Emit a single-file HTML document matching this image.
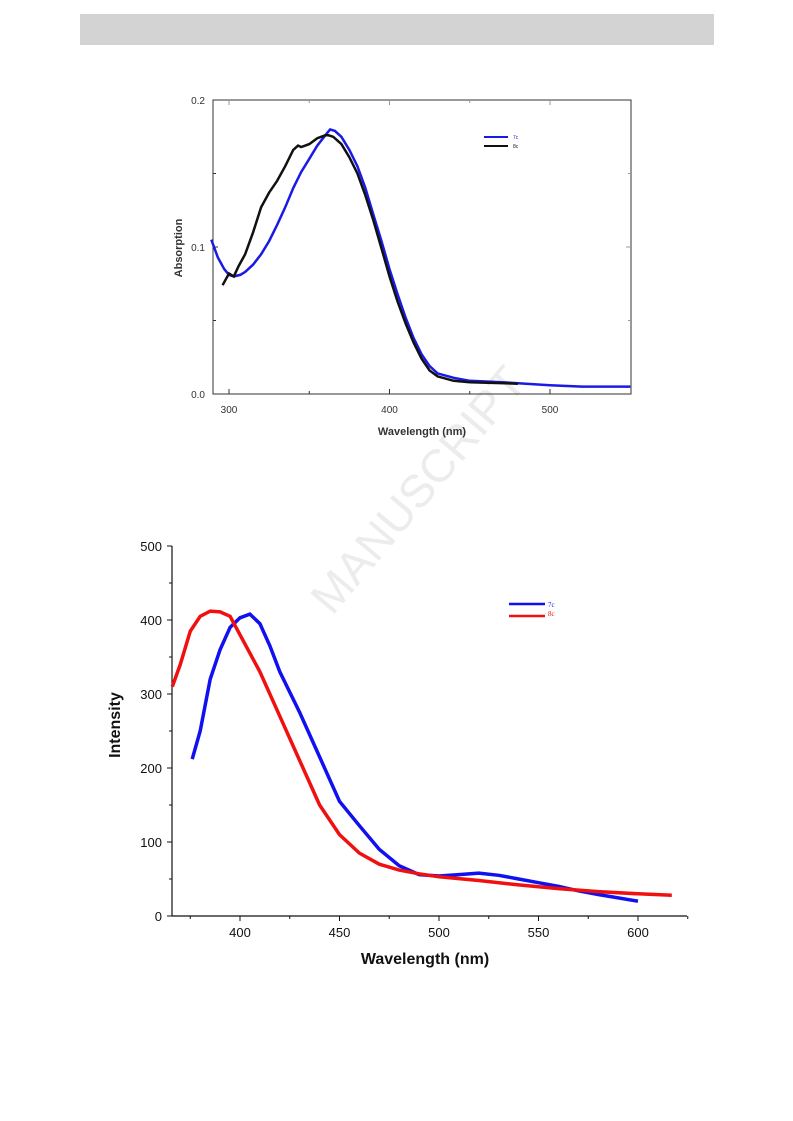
<!DOCTYPE html>
<html><head><meta charset="utf-8"><style>
body{margin:0;background:#fff;width:793px;height:1121px;overflow:hidden;font-family:"Liberation Sans",sans-serif}
svg{position:absolute;left:0;top:0}
</style></head><body>
<svg width="793" height="1121">
<rect x="80" y="14" width="634" height="31" fill="#d3d3d3"/>
<text x="430" y="500" transform="rotate(-50 430 500)" font-size="46" fill="#ececec" text-anchor="middle">MANUSCRIPT</text>
<g id="top"></g>
<g id="bot"></g>
</svg>
<script>
// Absorption chart data
const absX7c=[289,293,297,300,303,307,310,315,320,325,330,335,340,345,350,355,360,363,366,370,375,380,385,390,395,400,405,410,415,420,425,430,440,450,470,500,520,550];
const absY7c=[0.105,0.093,0.085,0.081,0.080,0.081,0.083,0.088,0.095,0.104,0.115,0.127,0.140,0.151,0.160,0.169,0.176,0.180,0.179,0.175,0.166,0.155,0.140,0.122,0.104,0.085,0.068,0.052,0.038,0.027,0.019,0.014,0.011,0.009,0.008,0.006,0.005,0.005];
const absX8c=[296,298,300,303,306,310,315,320,325,330,335,340,343,345,350,355,360,362,365,370,375,380,385,390,395,400,405,410,415,420,425,430,440,450,480];
const absY8c=[0.074,0.078,0.082,0.080,0.087,0.095,0.110,0.127,0.137,0.145,0.155,0.166,0.169,0.168,0.170,0.174,0.176,0.176,0.175,0.170,0.161,0.150,0.135,0.118,0.099,0.080,0.063,0.048,0.035,0.024,0.016,0.012,0.009,0.008,0.007];
const absXTicks=[300,400,500];
const absYTicks=[0.0,0.1,0.2];
// Emission chart data
const emX7c=[376,380,385,390,395,400,405,410,415,420,430,440,450,460,470,480,490,500,510,520,530,540,550,560,570,580,600];
const emY7c=[212,250,320,360,390,403,408,395,365,330,275,215,155,122,90,68,56,54,56,58,55,50,45,40,34,29,20];
const emX8c=[366,370,375,380,385,390,395,400,410,420,430,440,450,460,470,480,490,500,520,540,560,580,600,617];
const emY8c=[310,340,385,405,412,411,405,380,330,270,210,150,110,85,70,62,57,53,48,42,37,33,30,28];
const emXTicks=[400,450,500,550,600];
const emYTicks=[0,100,200,300,400,500];

const NS="http://www.w3.org/2000/svg";
function mk(p,t,a){const e=document.createElementNS(NS,t);for(const k in a)e.setAttribute(k,a[k]);p.appendChild(e);return e;}
function path(xs,ys,sx,sy){return xs.map((x,i)=>(i?'L':'M')+sx(x).toFixed(1)+','+sy(ys[i]).toFixed(1)).join('');}

// top chart
const T=document.getElementById('top');
const tx=v=>229+(v-300)*1.605, ty=v=>394-v*1470;
let e=mk(T,'rect',{x:213,y:100,width:418,height:294,fill:'none',stroke:'#333','stroke-width':1});

[300,350,400,450,500].forEach(v=>{const L=v%100?3:5;
 e=mk(T,'line',{x1:tx(v),x2:tx(v),y1:394,y2:394-L,stroke:'#333'});
 e=mk(T,'line',{x1:tx(v),x2:tx(v),y1:100,y2:100+L,stroke:'#999'});});
[0.05,0.1,0.15].forEach(v=>{const L=Math.abs(v-0.1)<1e-9?5:3;
 e=mk(T,'line',{x1:213,x2:213+L,y1:ty(v),y2:ty(v),stroke:'#333'});
 e=mk(T,'line',{x1:631,x2:631-L,y1:ty(v),y2:ty(v),stroke:'#999'});});
absXTicks.forEach(v=>{e=mk(T,'text',{x:tx(v),y:413,'font-size':10,fill:'#333','text-anchor':'middle'});e.textContent=v;});
absYTicks.forEach(v=>{e=mk(T,'text',{x:205,y:ty(v)+4,'font-size':10,fill:'#333','text-anchor':'end'});e.textContent=v.toFixed(1);});
e=mk(T,'text',{x:422,y:435,'font-size':11,'font-weight':'bold',fill:'#333','text-anchor':'middle'});e.textContent='Wavelength (nm)';
e=mk(T,'text',{x:182,y:248,'font-size':11,'font-weight':'bold',fill:'#333','text-anchor':'middle',transform:'rotate(-90 182 248)'});e.textContent='Absorption';
e=mk(T,'path',{d:path(absX7c,absY7c,tx,ty),fill:'none',stroke:'#1a1ae6','stroke-width':2.5});
e=mk(T,'path',{d:path(absX8c,absY8c,tx,ty),fill:'none',stroke:'#111','stroke-width':2.5});
e=mk(T,'line',{x1:484,x2:508,y1:137,y2:137,stroke:'#1a1ae6','stroke-width':2});
e=mk(T,'text',{x:513,y:139,'font-size':5,fill:'#1a1ae6'});e.textContent='7c';
e=mk(T,'line',{x1:484,x2:508,y1:146,y2:146,stroke:'#111','stroke-width':2});
e=mk(T,'text',{x:513,y:148,'font-size':5,fill:'#111'});e.textContent='8c';

// bottom chart
const B=document.getElementById('bot');
const bx=v=>240+(v-400)*1.99, by=v=>916-v*0.74;
e=mk(B,'line',{x1:172,x2:172,y1:546,y2:916,stroke:'#111','stroke-width':1.2});
e=mk(B,'line',{x1:172,x2:687,y1:916,y2:916,stroke:'#111','stroke-width':1.2});
for(let v=375;v<=625;v+=25){const L=v%50?3:5;e=mk(B,'line',{x1:bx(v),x2:bx(v),y1:916,y2:916+L,stroke:'#111'});}
for(let v=0;v<=500;v+=50){const L=v%100?3:5;e=mk(B,'line',{x1:172,x2:172-L,y1:by(v),y2:by(v),stroke:'#111'});}
emXTicks.forEach(v=>{e=mk(B,'text',{x:bx(v),y:937,'font-size':13,fill:'#111','text-anchor':'middle'});e.textContent=v;});
emYTicks.forEach(v=>{e=mk(B,'text',{x:162,y:by(v)+5,'font-size':13,fill:'#111','text-anchor':'end'});e.textContent=v;});
e=mk(B,'text',{x:425,y:964,'font-size':16,'font-weight':'bold',fill:'#111','text-anchor':'middle'});e.textContent='Wavelength (nm)';
e=mk(B,'text',{x:120,y:725,'font-size':16,'font-weight':'bold',fill:'#111','text-anchor':'middle',transform:'rotate(-90 120 725)'});e.textContent='Intensity';
e=mk(B,'path',{d:path(emX7c,emY7c,bx,by),fill:'none',stroke:'#1010f0','stroke-width':3.5});
e=mk(B,'path',{d:path(emX8c,emY8c,bx,by),fill:'none',stroke:'#f01010','stroke-width':3.5});
e=mk(B,'line',{x1:509,x2:545,y1:604,y2:604,stroke:'#1010f0','stroke-width':2.5});
e=mk(B,'text',{x:548,y:607,'font-size':7,fill:'#1010f0','font-family':'Liberation Serif'});e.textContent='7c';
e=mk(B,'line',{x1:509,x2:545,y1:616,y2:616,stroke:'#f01010','stroke-width':2.5});
e=mk(B,'text',{x:548,y:616,'font-size':7,fill:'#f01010','font-family':'Liberation Serif'});e.textContent='8c';
</script>
</body></html>
